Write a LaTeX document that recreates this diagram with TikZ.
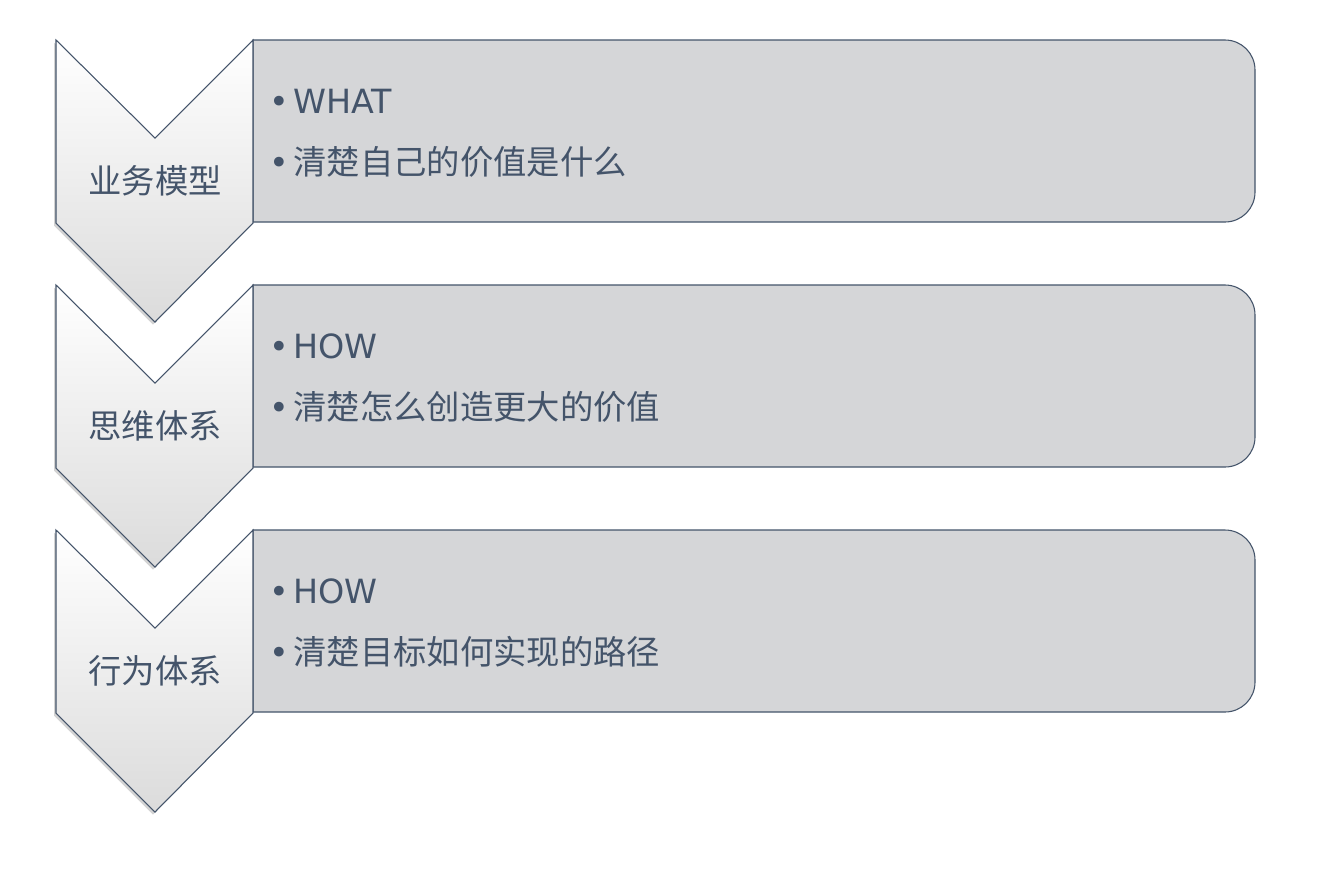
\documentclass[tikz,border=0pt]{standalone}
\usepackage{fontspec}
\setmainfont{Noto Sans CJK SC}
\newfontfamily\latinfont{DejaVu Sans}
\usetikzlibrary{shadows}
\definecolor{slate}{HTML}{44546A}
\definecolor{boxgray}{HTML}{D5D6D8}

\begin{document}
\begin{tikzpicture}[x=0.75pt, y=-0.75pt, font=\fontsize{25}{30}\selectfont]
\useasboundingbox (0,0) rectangle (1324,886);
\tikzset{panel/.style={draw=slate, fill=boxgray, line width=0.8pt},
         chevron/.style={draw=slate, line width=0.8pt, top color=white, middle color=white, bottom color=black!14,
                         drop shadow={shadow xshift=-1.5pt, shadow yshift=-2pt, opacity=0.35}},
         lbl/.style={text=slate, inner sep=0pt},
         item/.style={text=slate, anchor=west, inner sep=0pt}}

% panels first
\foreach \y in {0,245,490}
{
    \draw[panel] (253,40+\y) -- (1225,40+\y) arc[start angle=-90, end angle=0, radius=30]
        -- (1255,192+\y) arc[start angle=0, end angle=90, radius=30] -- (253,222+\y) -- cycle;
}

% chevrons and texts
\foreach \y/\n/\name/\first/\second in {0/a/业务模型/WHAT/清楚自己的价值是什么,
    245/b/思维体系/HOW/清楚怎么创造更大的价值,
    490/c/行为体系/HOW/清楚目标如何实现的路径}
{
    \draw[chevron] (56,40+\y) -- (155,138+\y) -- (253,40+\y) -- (253,223+\y) -- (155,322+\y) -- (56,223+\y) -- cycle;
    \node[lbl] (label\n) at (155,181+\y) {\name};
    \node[item] (first\n) at (269,101+\y) {{\latinfont •}\hspace{3.4pt}{\latinfont\first}};
    \node[item] (second\n) at (269,162+\y) {{\latinfont •}\hspace{3.4pt}\second};
}
\end{tikzpicture}
\end{document}
